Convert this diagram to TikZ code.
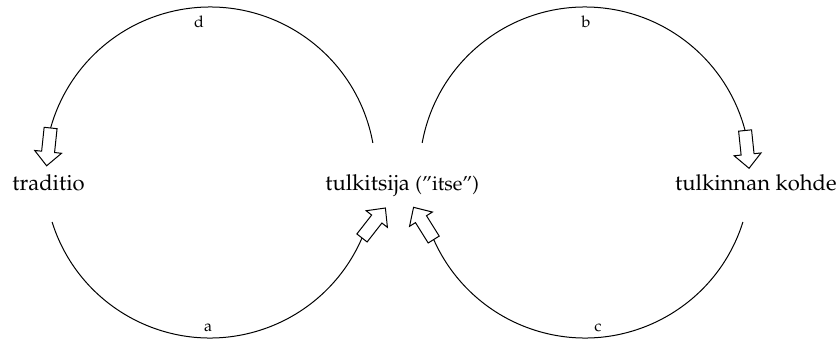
\documentclass[tikz,border=0pt]{standalone}
\usepackage[T1]{fontenc}
\usepackage{mathpazo}
\usetikzlibrary{positioning}

\tikzset{
    kasite/.style={font=\fontsize{11}{13}\selectfont, inner sep=0pt},
    kirjain/.style={font=\fontsize{8}{10}\selectfont, inner sep=0pt, anchor=base},
    kaari/.style={line width=0.5pt},
    % hollow block arrow, tail at the origin, pointing along +x
    onttonuoli/.pic={
        \draw[fill=white, line width=0.5pt, line join=miter]
            (0,-6.5) -- (24,-6.5) -- (24,-13.5) -- (38,0) -- (24,13.5) -- (24,6.5) -- (0,6.5) -- cycle;
    }
}

\begin{document}
\begin{tikzpicture}[x=0.5pt, y=0.5pt]
    \useasboundingbox (0,0) rectangle (840,342);

    % Circle centres and radius
    \coordinate (vasen) at (210,169.5);
    \coordinate (oikea) at (585,169.5);
    \def\sade{165.5}

    % Concepts
    \node[kasite, anchor=base west] (traditio) at (12,151) {traditio};
    \node[kasite, anchor=base west] (tulkitsija) at (325,151)
        {tulkitsija {\fontsize{10}{12}\selectfont(''itse'')}};
    \node[kasite, anchor=base east] (kohde) at (837,151) {tulkinnan kohde};

    % d: tulkitsija -> traditio
    \draw[kaari] ([shift={(10.3:\sade)}]vasen) arc[start angle=10.3, end angle=164.4, radius=\sade]
        coordinate (d-loppu);
    \pic[rotate=264] at (d-loppu) {onttonuoli};

    % a: traditio -> tulkitsija
    \draw[kaari] ([shift={(197.4:\sade)}]vasen) arc[start angle=197.4, end angle=336.7, radius=\sade]
        coordinate (a-loppu);
    \pic[rotate=52] at (a-loppu) {onttonuoli};

    % b: tulkitsija -> kohde
    \draw[kaari] ([shift={(169.7:\sade)}]oikea) arc[start angle=169.7, end angle=14.7, radius=\sade]
        coordinate (b-loppu);
    \pic[rotate=276] at (b-loppu) {onttonuoli};

    % c: kohde -> tulkitsija
    \draw[kaari] ([shift={(-17.4:\sade)}]oikea) arc[start angle=-17.4, end angle=-156.1, radius=\sade]
        coordinate (c-loppu);
    \pic[rotate=122] at (c-loppu) {onttonuoli};

    % Arc labels
    \node[kirjain] (d) at (199,314) {d};
    \node[kirjain] (a) at (208,10) {a};
    \node[kirjain] (b) at (586,314) {b};
    \node[kirjain] (c) at (598,10) {c};
\end{tikzpicture}
\end{document}
